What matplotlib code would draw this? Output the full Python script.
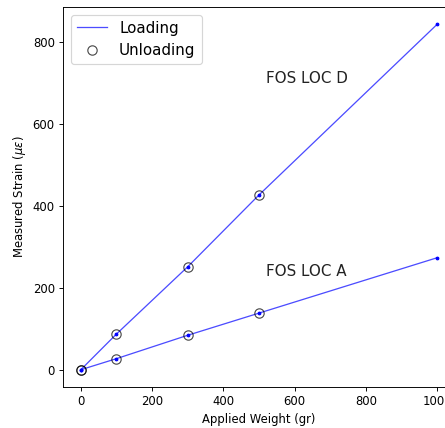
import numpy as np
import matplotlib.pyplot as plt

# applied weights (gr)
weight = [0, 100, 300, 500, 1000]
weight_unload = [0, 100, 300, 500]

# measured strain (micro-strain)
loc_d_load = [0, 87, 251, 426, 842]
loc_a_load = [0, 27, 84, 138, 273]
loc_d_unload = [0, 87, 251, 426]
loc_a_unload = [0, 27, 84, 138]

DPI = 84
fig = plt.figure(figsize=(445 / DPI, 428 / DPI), dpi=DPI)
ax = fig.add_axes([63 / 445, 41 / 428, 392 / 445, 380 / 428])

# loading lines + point dots
ax.plot(weight, loc_d_load, 'b-', lw=1.1, alpha=0.7, label='Loading')
ax.plot(weight, loc_a_load, 'b-', lw=1.1, alpha=0.7)
ax.plot(weight, loc_d_load, 'b.', ms=4.5)
ax.plot(weight, loc_a_load, 'b.', ms=4.5)

# unloading as open circles
ax.plot(weight_unload, loc_d_unload, 'o', mfc='none', mec='k', ms=8, alpha=0.7, label='Unloading')
ax.plot(weight_unload, loc_a_unload, 'o', mfc='none', mec='k', ms=8, alpha=0.7)

ax.text(520, 700, 'FOS LOC D', fontsize=13, color='#222222')
ax.text(520, 228, 'FOS LOC A', fontsize=13, color='#222222')

ax.set_xlabel('Applied Weight (gr)')
ax.set_ylabel(r'Measured Strain ($\mu\epsilon$)')
ax.set_xticks([0, 200, 400, 600, 800, 1000])
ax.set_yticks([0, 200, 400, 600, 800])
ax.legend(fontsize=13, loc='upper left')

fig.savefig('out.png', dpi=DPI)
